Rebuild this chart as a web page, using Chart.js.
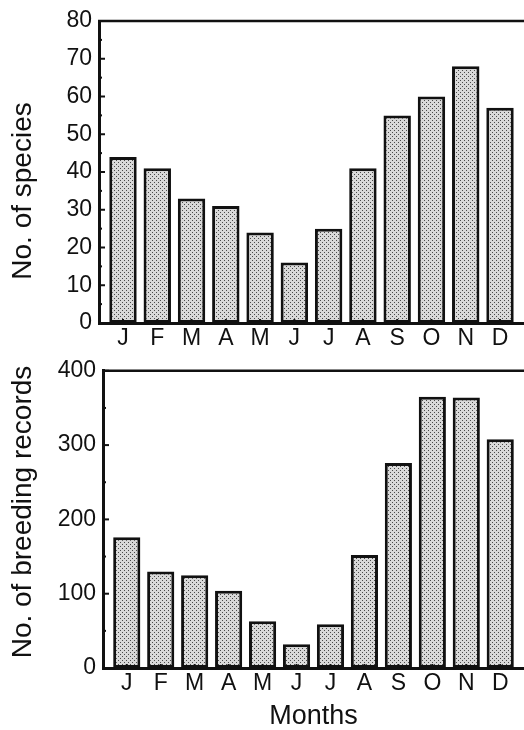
<!DOCTYPE html>
<html><head><meta charset="utf-8">
<script src="https://cdn.jsdelivr.net/npm/chart.js@4.4.1/dist/chart.umd.min.js"></script>
<style>
html,body{margin:0;padding:0;background:#fff;width:524px;height:730px;overflow:hidden}
#c1{position:absolute;left:0;top:0}
#c2{position:absolute;left:0;top:350px}
</style></head><body>
<canvas id="c1" width="524" height="350" style="width:524px;height:350px"></canvas>
<canvas id="c2" width="524" height="380" style="width:524px;height:380px"></canvas>
<script>
const MONTHS = ['J','F','M','A','M','J','J','A','S','O','N','D'];
const SPECIES = [44,41,33,31,24,16,25,41,55,60,68,57];
const BREEDING = [176,130,125,104,63,32,59,152,276,365,364,308];
const SPECIES_TICKS = [0,10,20,30,40,50,60,70,80];
const BREEDING_TICKS = [0,100,200,300,400];
const TITLE_SPECIES = 'No. of species';
const TITLE_BREEDING = 'No. of breeding records';
const TITLE_MONTHS = 'Months';

const FONT = "'Liberation Sans', Arial, Helvetica, sans-serif";
const INK = '#111';

function makePattern(){
  const p = document.createElement('canvas'); p.width = 4; p.height = 4;
  const c = p.getContext('2d');
  c.fillStyle = '#d9d9d9'; c.fillRect(0,0,4,4);
  c.fillStyle = '#4a4a4a'; c.fillRect(0,0,1,1); c.fillRect(2,2,1,1);
  return c.createPattern(p,'repeat');
}
const PAT = makePattern();

const decor = {
  id: 'decor',
  afterDatasetsDraw(chart, args, opts){
    const {ctx, chartArea: a, scales: {x, y}} = chart;
    const line = (x1,y1,x2,y2)=>{ctx.beginPath();ctx.moveTo(x1,y1);ctx.lineTo(x2,y2);ctx.stroke();};
    ctx.save();
    ctx.strokeStyle = INK;
    ctx.lineWidth = 2.5;
    line(a.left-1, a.top, a.right, a.top);
    ctx.lineWidth = 2;
    const tv = y.ticks.map(t=>t.value);
    tv.forEach((v,i)=>{
      const py = y.getPixelForValue(v);
      line(a.left, py, a.left+6, py);
      if (i < tv.length-1){
        const pm = y.getPixelForValue((v+tv[i+1])/2);
        line(a.left, pm, a.left+3, pm);
      }
    });
    x.ticks.forEach(t=>{
      const px = x.getPixelForValue(t.value);
      line(px, a.bottom, px, a.bottom-4);
    });
    ctx.fillStyle = INK;
    ctx.font = '28px ' + FONT;
    ctx.textAlign = 'center';
    ctx.textBaseline = 'middle';
    ctx.translate(opts.tx, opts.ty);
    ctx.rotate(-Math.PI/2);
    ctx.fillText(opts.title, 0, 0);
    ctx.restore();
  }
};

function makeChart(canvas, values, yTicks, cfg){
  return new Chart(canvas, {
    type: 'bar',
    data: { datasets: [{
      data: values.map((v,i)=>({x:i+1, y:v})),
      backgroundColor: PAT, borderColor: INK, borderWidth: 3, borderSkipped: false,
      barPercentage: 0.8, categoryPercentage: 1
    }]},
    options: {
      responsive: false, animation: false, events: [],
      layout: { padding: { top: cfg.top, left: 0, right: 0, bottom: 0 } },
      plugins: { legend: {display:false}, tooltip: {enabled:false},
        decor: { title: cfg.ytitle, tx: cfg.tx, ty: cfg.ty } },
      scales: {
        x: {
          type: 'linear', min: 0.3, max: 12.7, offset: false,
          grid: {display:false, drawTicks:false},
          border: {display:true, width:3, color:INK},
          afterBuildTicks: s => { s.ticks = MONTHS.map((m,i)=>({value:i+1})); },
          ticks: { autoSkip:false, maxRotation:0, minRotation:0, padding:2, color:INK,
            font: {family:FONT, size:23}, callback: (v,i)=>MONTHS[i] },
          title: cfg.xtitle ? { display:true, text:cfg.xtitle, color:INK,
            font:{family:FONT, size:27, lineHeight:1}, padding:{top:0,bottom:0} } : {display:false},
          afterFit: s => { s.height = cfg.xh; }
        },
        y: {
          min: 0, max: yTicks[yTicks.length-1],
          grid: {display:false, drawTicks:false},
          border: {display:true, width:3, color:INK},
          afterBuildTicks: s => { s.ticks = yTicks.map(v=>({value:v})); },
          ticks: { padding:7, color:INK, font:{family:FONT, size:23} },
          afterFit: s => { s.width = cfg.yw; }
        }
      }
    },
    plugins: [decor]
  });
}

makeChart(document.getElementById('c1'), SPECIES, SPECIES_TICKS,
  {top:21, xh:27, yw:99, ytitle:TITLE_SPECIES, tx:23, ty:191});
makeChart(document.getElementById('c2'), BREEDING, BREEDING_TICKS,
  {top:14, xh:62, yw:103, ytitle:TITLE_BREEDING, tx:23, ty:162, xtitle:TITLE_MONTHS});
</script>
</body></html>
